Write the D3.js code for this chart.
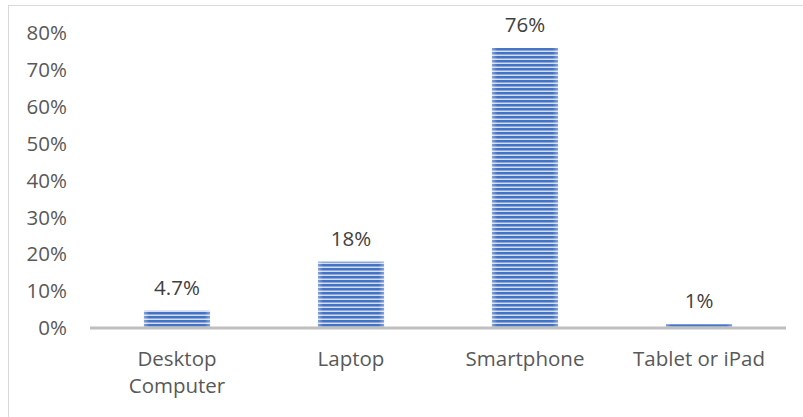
<!DOCTYPE html>
<html>
<head>
<meta charset="utf-8">
<script src="https://cdn.jsdelivr.net/npm/d3@7/dist/d3.min.js"></script>
<style>
  html, body { margin: 0; padding: 0; background: #fff; }
  svg { display: block; font-family: "Open Sans", Lato, sans-serif; }
</style>
</head>
<body>
<svg id="chart" width="803" height="417"></svg>
<script>
// Share of respondents by device
const categories = [["Desktop", "Computer"], ["Laptop"], ["Smartphone"], ["Tablet or iPad"]];
const values = [4.7, 18, 76, 1];
const valueLabels = ["4.7%", "18%", "76%", "1%"];
const yTicks = [0, 10, 20, 30, 40, 50, 60, 70, 80];

const FONT = "'Open Sans', Lato, sans-serif";
const FS = 20.5;

const svg = d3.select("#chart");
const W = 803, H = 417;
const margin = { left: 90, right: 17, top: 33, bottom: 89 };
const plotW = W - margin.left - margin.right;

// Outer chart frame
svg.append("rect")
  .attr("x", 8.5).attr("y", 5.5)
  .attr("width", 800).attr("height", 420)
  .attr("fill", "#fff").attr("stroke", "#d9d9d9").attr("stroke-width", 1);

const x = d3.scaleBand()
  .domain(categories.map((c, i) => i))
  .range([margin.left, margin.left + plotW])
  .paddingInner(0.62).paddingOuter(0.31);

const y = d3.scaleLinear().domain([0, 80]).range([328, 33.3]);

// Striped fill for the bars
const defs = svg.append("defs");
const pat = defs.append("pattern")
  .attr("id", "stripes").attr("patternUnits", "userSpaceOnUse")
  .attr("width", 8).attr("height", 4);
pat.append("rect").attr("width", 8).attr("height", 4).attr("fill", "#d3def2");
pat.append("rect").attr("width", 8).attr("height", 2.5).attr("fill", "#4472c4");

const edge = defs.append("linearGradient").attr("id", "edgeGlow")
  .attr("x1", 0).attr("x2", 1).attr("y1", 0).attr("y2", 0);
edge.append("stop").attr("offset", 0).attr("stop-color", "#fff").attr("stop-opacity", 0.35);
edge.append("stop").attr("offset", 0.08).attr("stop-color", "#fff").attr("stop-opacity", 0);
edge.append("stop").attr("offset", 0.92).attr("stop-color", "#fff").attr("stop-opacity", 0);
edge.append("stop").attr("offset", 1).attr("stop-color", "#fff").attr("stop-opacity", 0.35);

// Y axis labels (no axis line, no gridlines)
const yAxis = d3.axisLeft(y).tickValues(yTicks).tickFormat(d => d + "%").tickSize(0).tickPadding(0);
const yg = svg.append("g").attr("transform", "translate(67,0)").call(yAxis);
yg.select(".domain").remove();
yg.selectAll("text")
  .attr("fill", "#595959").attr("font-size", FS)
  .attr("font-family", FONT);

// Bars
const bars = svg.append("g");
values.forEach((v, i) => {
  bars.append("rect")
    .attr("x", x(i)).attr("y", y(v))
    .attr("width", x.bandwidth()).attr("height", y(0) - y(v))
    .attr("fill", "url(#stripes)");
  bars.append("rect")
    .attr("x", x(i)).attr("y", y(v))
    .attr("width", x.bandwidth()).attr("height", y(0) - y(v))
    .attr("fill", "url(#edgeGlow)");
});

// Baseline
const xAxis = d3.axisBottom(x).tickSize(0).tickFormat("");
const xg = svg.append("g").attr("transform", `translate(0,${y(0)})`).call(xAxis);
xg.select(".domain").attr("stroke", "#bfbfbf").attr("stroke-width", 3)
  .attr("d", `M${margin.left},0H${margin.left + plotW}`);

// Value labels
svg.append("g").selectAll("text").data(values).join("text")
  .attr("x", (d, i) => x(i) + x.bandwidth() / 2)
  .attr("y", d => y(d) - 16)
  .attr("text-anchor", "middle")
  .attr("fill", "#404040").attr("font-size", FS)
  .text((d, i) => valueLabels[i]);

// Category labels
const cat = svg.append("g").selectAll("text").data(categories).join("text")
  .attr("x", (d, i) => x(i) + x.bandwidth() / 2)
  .attr("y", 366)
  .attr("text-anchor", "middle")
  .attr("fill", "#595959").attr("font-size", FS);
cat.each(function(lines, i) {
  const t = d3.select(this);
  lines.forEach((l, j) => {
    t.append("tspan").attr("x", x(i) + x.bandwidth() / 2).attr("dy", j === 0 ? 0 : 27).text(l);
  });
});
</script>
</body>
</html>
